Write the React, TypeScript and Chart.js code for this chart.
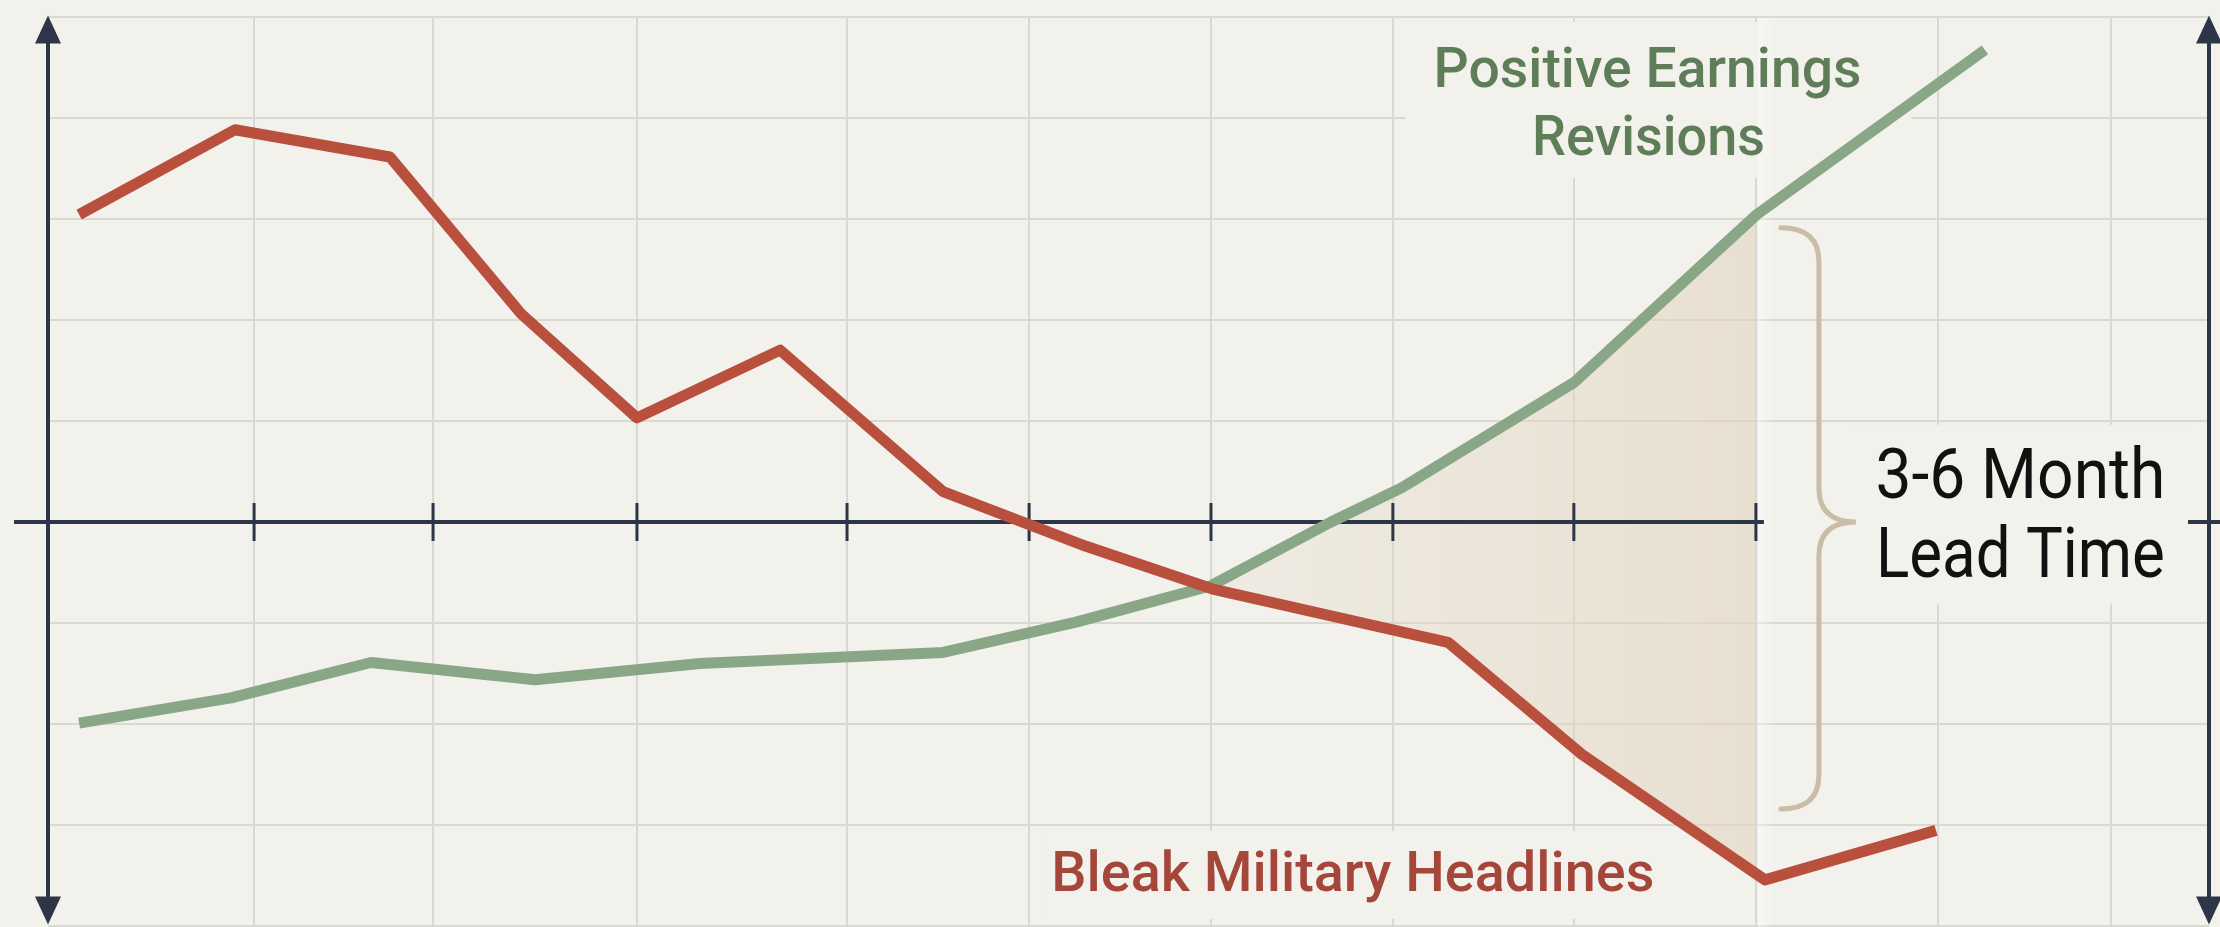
import React, { useEffect, useRef } from "react";
import { Chart, registerables } from "chart.js";

Chart.register(...registerables);

// ---- Data (x in months, y in relative index units) ----
const redMonths = [-0.223, 0.634, 1.486, 2.207, 2.844, 3.631, 4.527, 5.313, 6.022, 7.303, 8.04, 9.046, 9.986];
const redValues = [3.04, 3.88, 3.61, 2.06, 1.03, 1.7, 0.3, -0.24, -0.67, -1.19, -2.3, -3.54, -3.05];

const greenMonths = [-0.223, 0.612, 1.382, 2.284, 3.191, 4.527, 5.258, 6.0, 6.66, 7.05, 7.996, 9.0, 10.255];
const greenValues = [-1.99, -1.74, -1.39, -1.56, -1.4, -1.29, -0.99, -0.63, 0.0, 0.34, 1.38, 3.04, 4.67];

const gridMonths = [0.739, 1.723, 2.844, 3.999, 5.0, 6.0, 7.0, 7.995, 8.996, 9.997, 10.948];

const leadStart = 6.0;
const leadEnd = 8.996;
const xMin = -0.394;
const xMax = 11.487;
const yMin = -4;
const yMax = 5;

const redLabel = "Bleak Military Headlines";
const greenLabel = ["Positive Earnings", "Revisions"];
const leadLabel = ["3-6 Month", "Lead Time"];

const BG = "#F2F1EC";
const GRID = "#D9D8D3";
const AXIS = "#2C3647";
const RED = "#B9503D";
const GREEN = "#89A787";
const RED_TEXT = "#A4473A";
const GREEN_TEXT = "#5F7D58";
const BRACE = "#C9BDA8";
const FONT = "Roboto, 'Liberation Sans', Arial, sans-serif";

function drawFit(ctx: CanvasRenderingContext2D, text: string, cx: number, baseline: number, font: string, targetW: number, color: string) {
  ctx.save();
  ctx.font = font;
  const w = ctx.measureText(text).width;
  const s = targetW / w;
  ctx.translate(cx, baseline);
  ctx.scale(s, 1);
  ctx.textAlign = "center";
  ctx.textBaseline = "alphabetic";
  ctx.fillStyle = color;
  ctx.fillText(text, 0, 0);
  ctx.restore();
}

function arrowHead(ctx: CanvasRenderingContext2D, x: number, tipY: number, dir: number) {
  ctx.beginPath();
  ctx.moveTo(x, tipY);
  ctx.lineTo(x - 13, tipY + dir * 28);
  ctx.lineTo(x + 13, tipY + dir * 28);
  ctx.closePath();
  ctx.fill();
}

const decoPlugin = {
  id: "deco",
  beforeDraw(chart: any) {
    const { ctx, width, height } = chart;
    ctx.save();
    ctx.fillStyle = BG;
    ctx.fillRect(0, 0, width, height);
    ctx.restore();
  },
  beforeDatasetsDraw(chart: any) {
    const { ctx, chartArea, scales, width } = chart;
    const xs = scales.x;
    const ys = scales.y;
    ctx.save();

    // label background boxes (clear grid)
    ctx.fillStyle = BG;
    const gcx = xs.getPixelForValue(8.4);
    const gb1 = ys.getPixelForValue(4.3);
    const gb2 = ys.getPixelForValue(3.63);
    ctx.fillRect(gcx - 242, gb1 - 65, 506, gb2 - gb1 + 88);
    const rcx = xs.getPixelForValue(6.78);
    const rb = ys.getPixelForValue(-3.65);
    ctx.fillRect(rcx - 312, rb - 60, 622, 88);
    const lcx = xs.getPixelForValue(10.45);
    const lb1 = ys.getPixelForValue(0.24);
    const lb2 = ys.getPixelForValue(-0.54);
    ctx.fillRect(lcx - 170, lb1 - 73, 335, lb2 - lb1 + 100);

    // shaded lead-time region between the two series
    const redPts = chart.getDatasetMeta(0).data;
    const greenPts = chart.getDatasetMeta(1).data;
    const x0 = xs.getPixelForValue(leadStart);
    const x1 = xs.getPixelForValue(leadEnd);
    ctx.save();
    ctx.beginPath();
    ctx.rect(x0, chartArea.top, x1 - x0, chartArea.bottom - chartArea.top);
    ctx.clip();
    ctx.beginPath();
    greenPts.forEach((p: any, i: number) => (i === 0 ? ctx.moveTo(p.x, p.y) : ctx.lineTo(p.x, p.y)));
    for (let i = redPts.length - 1; i >= 0; i--) ctx.lineTo(redPts[i].x, redPts[i].y);
    ctx.closePath();
    const grad = ctx.createLinearGradient(x0, 0, x1, 0);
    grad.addColorStop(0, "rgba(226,212,190,0.2)");
    grad.addColorStop(1, "rgba(226,212,190,0.6)");
    ctx.fillStyle = grad;
    ctx.fill();
    ctx.restore();
    const band = ctx.createLinearGradient(x1, 0, x1 + 18, 0);
    band.addColorStop(0, "rgba(255,255,255,0.5)");
    band.addColorStop(1, "rgba(255,255,255,0)");
    ctx.fillStyle = band;
    ctx.fillRect(x1 + 2, chartArea.top + 2, 18, chartArea.bottom - chartArea.top);

    // axes
    ctx.strokeStyle = AXIS;
    ctx.fillStyle = AXIS;
    ctx.lineWidth = 4;
    const y0 = ys.getPixelForValue(0);
    [chartArea.left, chartArea.right].forEach((ax: number) => {
      ctx.beginPath();
      ctx.moveTo(ax, chartArea.top + 20);
      ctx.lineTo(ax, chartArea.bottom - 20);
      ctx.stroke();
      arrowHead(ctx, ax, chartArea.top - 1, 1);
      arrowHead(ctx, ax, chartArea.bottom - 2, -1);
    });
    ctx.beginPath();
    ctx.moveTo(chartArea.left - 34, y0);
    ctx.lineTo(x1 + 8, y0);
    ctx.stroke();
    ctx.beginPath();
    ctx.moveTo(chartArea.right - 21, y0);
    ctx.lineTo(width, y0);
    ctx.stroke();
    ctx.lineWidth = 3;
    gridMonths.filter((m) => m <= leadEnd + 0.01).forEach((m) => {
      const px = xs.getPixelForValue(m);
      ctx.beginPath();
      ctx.moveTo(px, y0 - 19);
      ctx.lineTo(px, y0 + 19);
      ctx.stroke();
    });
    ctx.restore();
  },
  afterDatasetsDraw(chart: any) {
    const { ctx, scales } = chart;
    const xs = scales.x;
    const ys = scales.y;
    ctx.save();

    // brace
    const bx = xs.getPixelForValue(leadEnd);
    const curlX = bx + 25;
    const stemX = bx + 63;
    const tipX = bx + 100;
    const top = ys.getPixelForValue(2.91);
    const bot = ys.getPixelForValue(-2.84);
    const mid = ys.getPixelForValue(0);
    ctx.strokeStyle = BRACE;
    ctx.lineWidth = 5;
    ctx.lineCap = "round";
    ctx.beginPath();
    ctx.moveTo(curlX, top);
    ctx.quadraticCurveTo(stemX, top, stemX, top + 34);
    ctx.lineTo(stemX, mid - 34);
    ctx.quadraticCurveTo(stemX, mid, tipX, mid);
    ctx.quadraticCurveTo(stemX, mid, stemX, mid + 34);
    ctx.lineTo(stemX, bot - 34);
    ctx.quadraticCurveTo(stemX, bot, curlX, bot);
    ctx.stroke();

    // labels
    const gcx = xs.getPixelForValue(8.4);
    drawFit(ctx, greenLabel[0], gcx, ys.getPixelForValue(4.3), `500 56px ${FONT}`, 428, GREEN_TEXT);
    drawFit(ctx, greenLabel[1], gcx + 1, ys.getPixelForValue(3.63), `500 56px ${FONT}`, 233, GREEN_TEXT);
    drawFit(ctx, redLabel, xs.getPixelForValue(6.78), ys.getPixelForValue(-3.65), `500 56px ${FONT}`, 603, RED_TEXT);
    const lcx = xs.getPixelForValue(10.45);
    drawFit(ctx, leadLabel[0], lcx, ys.getPixelForValue(0.24), `400 70px ${FONT}`, 290, "#111111");
    drawFit(ctx, leadLabel[1], lcx, ys.getPixelForValue(-0.54), `400 70px ${FONT}`, 289, "#111111");
    ctx.restore();
  },
};

export default function App() {
  const ref = useRef<HTMLCanvasElement | null>(null);
  useEffect(() => {
    document.body.style.margin = "0";
    document.body.style.background = BG;
    const canvas = ref.current!;
    const chart = new Chart(canvas, {
      type: "line",
      data: {
        datasets: [
          {
            label: redLabel,
            data: redMonths.map((m, i) => ({ x: m, y: redValues[i] })),
            borderColor: RED,
            borderWidth: 11,
            borderJoinStyle: "round",
            pointRadius: 0,
            tension: 0,
            fill: false,
          },
          {
            label: greenLabel.join(" "),
            data: greenMonths.map((m, i) => ({ x: m, y: greenValues[i] })),
            borderColor: GREEN,
            borderWidth: 11,
            borderJoinStyle: "round",
            pointRadius: 0,
            tension: 0,
            fill: false,
          },
        ],
      },
      options: {
        animation: false,
        responsive: false,
        devicePixelRatio: 1,
        layout: { padding: { left: 48, right: 11, top: 16.5, bottom: 0.6 } },
        plugins: { legend: { display: false }, tooltip: { enabled: false } },
        events: [],
        scales: {
          x: {
            type: "linear",
            min: xMin,
            max: xMax,
            afterBuildTicks: (scale: any) => {
              scale.ticks = gridMonths.map((v) => ({ value: v }));
            },
            ticks: { display: false },
            border: { display: false },
            grid: { color: GRID, lineWidth: 2, drawTicks: false },
          },
          y: {
            type: "linear",
            min: yMin,
            max: yMax,
            ticks: { display: false, stepSize: 1 },
            border: { display: false },
            grid: {
              color: (c: any) => (c.tick && c.tick.value === 0 ? "rgba(0,0,0,0)" : GRID),
              lineWidth: 2,
              drawTicks: false,
            },
          },
        },
      },
      plugins: [decoPlugin],
    } as any);
    return () => chart.destroy();
  }, []);
  return (
    <canvas
      ref={ref}
      width={2220}
      height={927}
      style={{ position: "fixed", left: 0, top: 0, width: "2220px", height: "927px" }}
    />
  );
}
